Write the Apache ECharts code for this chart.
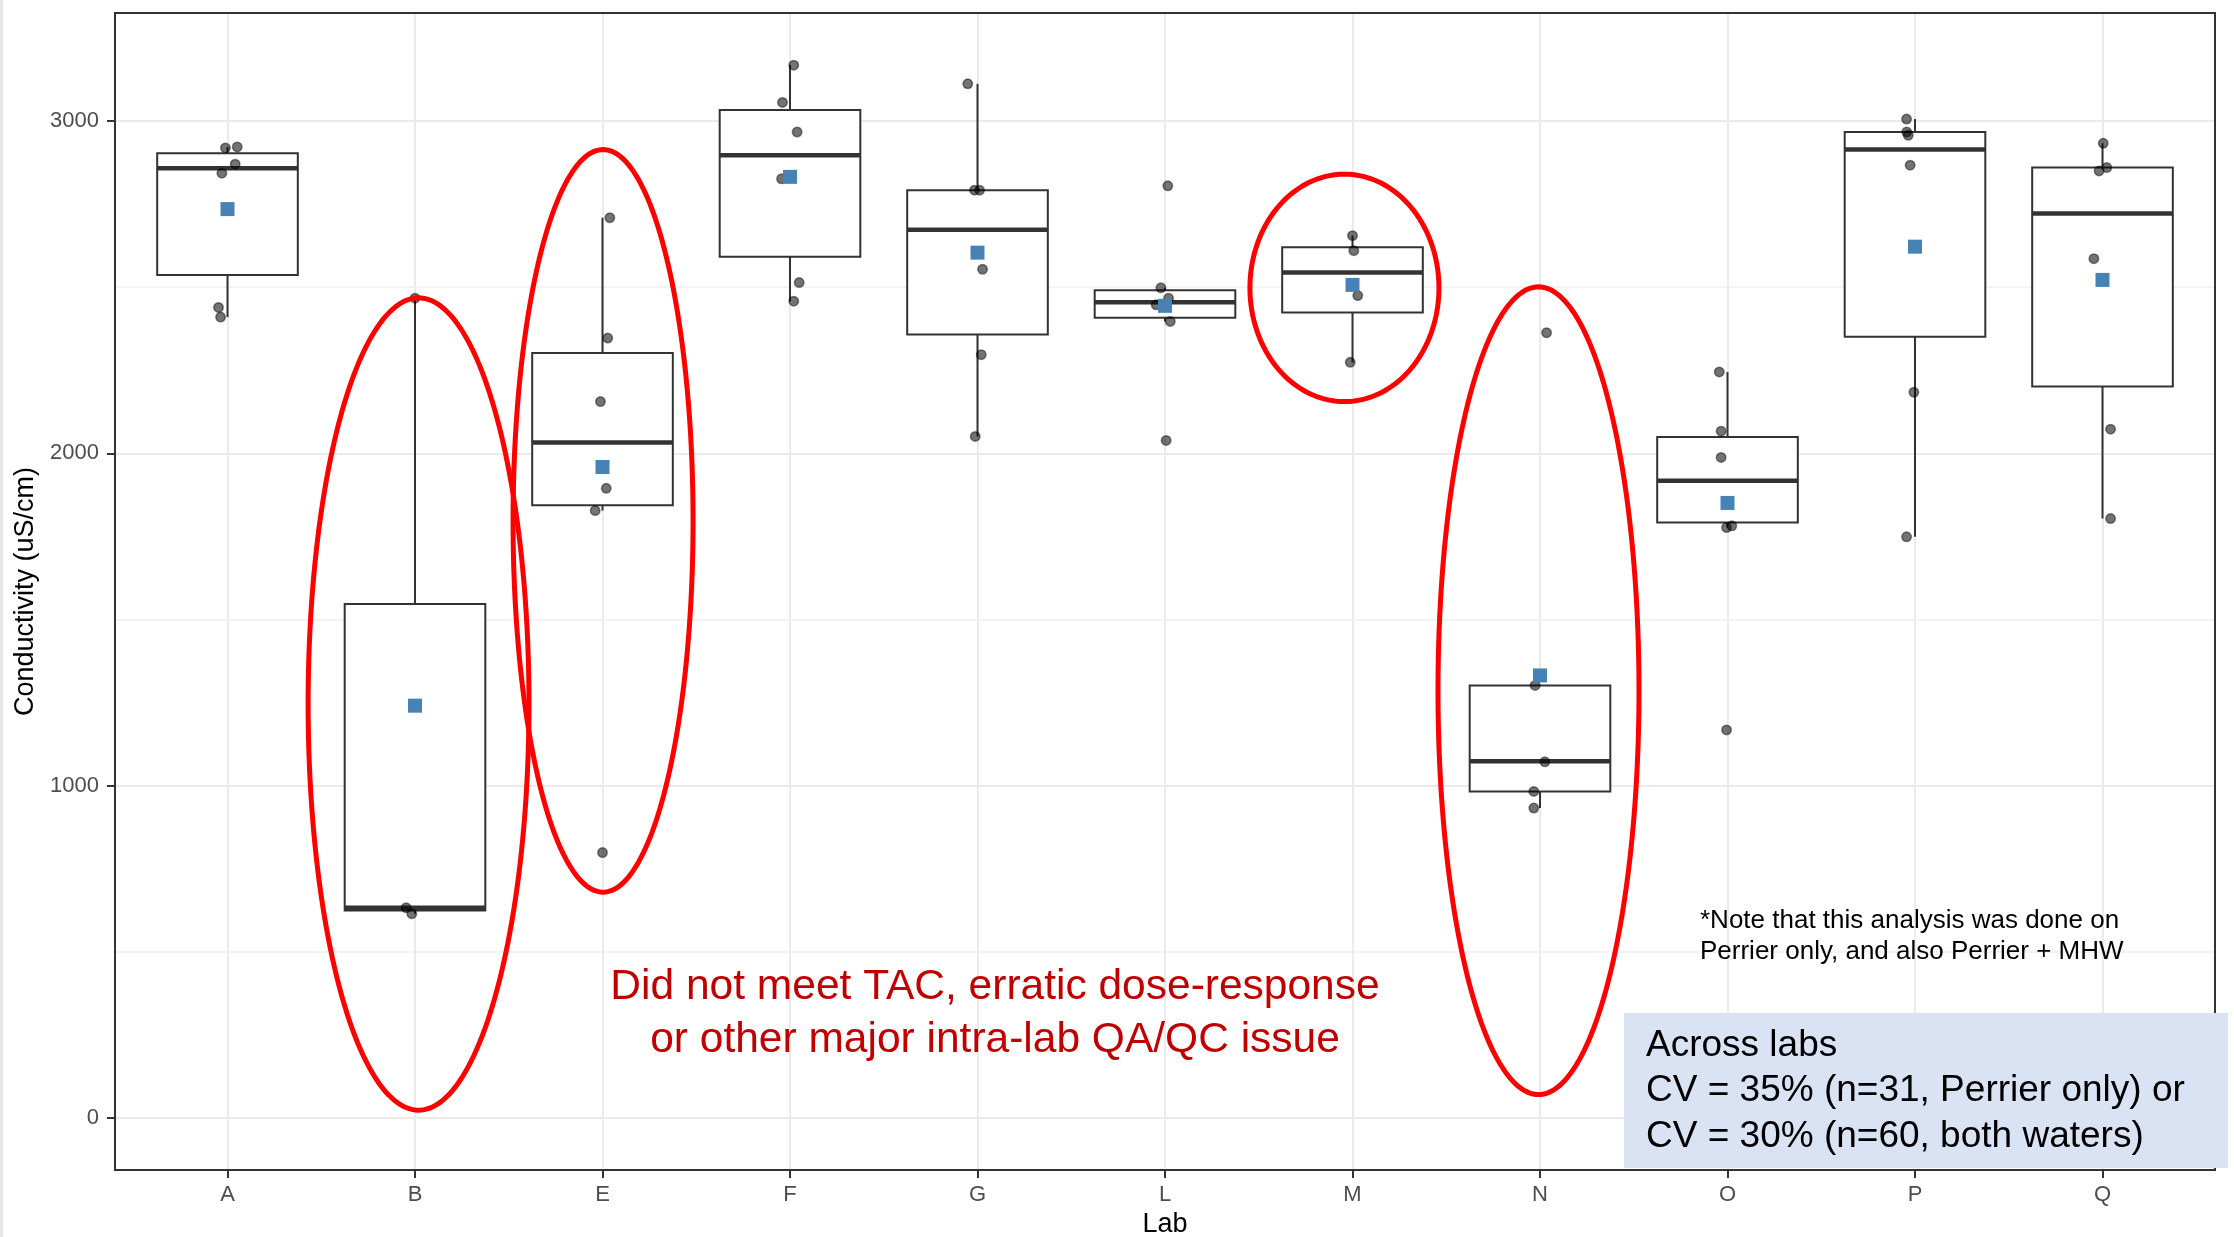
<!DOCTYPE html>
<html>
<head>
<meta charset="utf-8">
<script src="https://cdn.jsdelivr.net/npm/echarts@6/dist/echarts.min.js"></script>
<style>
  html, body { margin: 0; padding: 0; background: #ffffff; }
  #chart { width: 2234px; height: 1237px; }
</style>
</head>
<body>
<div id="chart"></div>
<script>
// Lab codes along the x axis
const labs = ['A', 'B', 'E', 'F', 'G', 'L', 'M', 'N', 'O', 'P', 'Q'];

// Box summaries per lab (uS/cm): whisker ends, hinges and median
const whiskerLow  = [2410,  615, 1828, 2458, 2051, 2397, 2274,  933, 1777, 1749, 1804];
const lowerHinge  = [2537,  625, 1844, 2592, 2358, 2408, 2424,  983, 1792, 2351, 2201];
const medians     = [2858,  633, 2033, 2897, 2673, 2455, 2544, 1074, 1918, 2914, 2722];
const upperHinge  = [2903, 1547, 2302, 3033, 2792, 2491, 2620, 1302, 2049, 2967, 2860];
const whiskerHigh = [2922, 2467, 2709, 3168, 3112, 2498, 2655, 1302, 2245, 3006, 2933];

// Lab means (blue squares)
const labMeans    = [2735, 1241, 1959, 2832, 2604, 2444, 2507, 1332, 1851, 2622, 2522];

// Individual replicate results per lab (uS/cm)
const resultsA = [2919, 2922, 2870, 2843, 2439, 2410];
const resultsB = [2467, 633, 615];
const resultsE = [2709, 2347, 2156, 1895, 1828, 799];
const resultsF = [3168, 3056, 2967, 2826, 2514, 2458];
const resultsG = [3112, 2792, 2792, 2554, 2297, 2051];
const resultsL = [2805, 2498, 2467, 2447, 2397, 2039];
const resultsM = [2655, 2610, 2475, 2274];
const resultsN = [2363, 1302, 1072, 983, 933];
const resultsO = [2245, 2067, 1988, 1782, 1777, 1168];
const resultsP = [3006, 2967, 2957, 2867, 2184, 1749];
const resultsQ = [2933, 2860, 2850, 2586, 2073, 1804];

// Horizontal jitter of each replicate, in lab-slot units
const jitterA = [-0.011, 0.052, 0.041, -0.030, -0.048, -0.037];
const jitterB = [0.000, -0.047, -0.017];
const jitterE = [0.039, 0.028, -0.011, 0.020, -0.039, 0.000];
const jitterF = [0.020, -0.040, 0.038, -0.045, 0.049, 0.020];
const jitterG = [-0.052, -0.016, 0.011, 0.027, 0.020, -0.012];
const jitterL = [0.015, -0.022, 0.019, -0.047, 0.028, 0.006];
const jitterM = [0.000, 0.007, 0.028, -0.012];
const jitterN = [0.035, -0.026, 0.026, -0.033, -0.033];
const jitterO = [-0.044, -0.034, -0.034, 0.023, -0.005, -0.005];
const jitterP = [-0.045, -0.044, -0.036, -0.026, -0.006, -0.045];
const jitterQ = [0.004, 0.023, -0.018, -0.046, 0.043, 0.043];

// Axis ticks
const yMajorTicks = [0, 1000, 2000, 3000];
const yMinorTicks = [500, 1500, 2500];

// Labs flagged for QA/QC problems, ringed with ellipses
// [lab slot, centre value, half-width (slots), half-height (uS/cm)]
const flaggedRings = [
  [1.019, 1246, 0.589, 1222],
  [2.003, 1797, 0.480, 1117],
  [5.957, 2498, 0.504, 342],
  [6.992, 1286, 0.536, 1215]
];

const allResults = [resultsA, resultsB, resultsE, resultsF, resultsG, resultsL,
                    resultsM, resultsN, resultsO, resultsP, resultsQ];
const allJitter  = [jitterA, jitterB, jitterE, jitterF, jitterG, jitterL,
                    jitterM, jitterN, jitterO, jitterP, jitterQ];

const boxData = labs.map((_, i) =>
  [i, whiskerLow[i], lowerHinge[i], medians[i], upperHinge[i], whiskerHigh[i]]);
const pointData = [];
allResults.forEach((vals, i) => {
  vals.forEach((v, k) => pointData.push([i + allJitter[i][k], v]));
});
const meanData = labMeans.map((m, i) => [i, m]);
const slots = labs.map((_, i) => i);

const FONT = "'Liberation Sans', Arial, Helvetica, sans-serif";
const INK = '#333333';
const BOX_HALF = 0.375;

const chart = echarts.init(document.getElementById('chart'), null, { renderer: 'canvas' });

chart.setOption({
  animation: false,
  backgroundColor: '#ffffff',
  grid: {
    left: 115, right: 19, top: 13, bottom: 67,
    show: true, z: 10,
    backgroundColor: 'transparent',
    borderColor: INK, borderWidth: 2,
    containLabel: false,
    outerBoundsMode: 'none'
  },
  xAxis: {
    type: 'value',
    min: -0.6, max: 10.6,
    name: 'Lab',
    nameLocation: 'middle',
    nameGap: 40,
    nameTextStyle: { fontFamily: FONT, fontSize: 27, color: '#000000' },
    axisLine: { show: false, onZero: false },
    axisTick: { show: true, length: 8, customValues: slots,
                lineStyle: { color: INK, width: 2 } },
    axisLabel: { customValues: slots, margin: 14,
                 fontFamily: FONT, fontSize: 22, color: '#4D4D4D',
                 formatter: v => labs[Math.round(v)] },
    splitLine: { show: true, lineStyle: { color: '#EBEBEB', width: 2 } },
    minorSplitLine: { show: false }
  },
  yAxis: {
    type: 'value',
    min: -156, max: 3325,
    name: 'Conductivity (uS/cm)',
    nameLocation: 'middle',
    nameGap: 61,
    nameTextStyle: { fontFamily: FONT, fontSize: 27, color: '#000000' },
    axisLine: { show: false, onZero: false },
    axisTick: { show: true, length: 8, customValues: yMajorTicks,
                lineStyle: { color: INK, width: 2 } },
    axisLabel: { customValues: yMajorTicks, margin: 16,
                 fontFamily: FONT, fontSize: 22, color: '#4D4D4D',
                 formatter: v => String(Math.round(v)) },
    splitLine: { show: true, lineStyle: { color: '#EBEBEB', width: 2 } },
    minorSplitLine: { show: false }
  },
  series: [
    {
      // minor horizontal grid
      type: 'scatter',
      data: [],
      silent: true,
      markLine: {
        z: 1,
        silent: true,
        symbol: ['none', 'none'],
        label: { show: false },
        emphasis: { disabled: true },
        lineStyle: { color: '#EFEFEF', width: 1.5, type: 'solid' },
        data: yMinorTicks.map(v => ({ yAxis: v }))
      }
    },
    {
      // boxes with whiskers and thick median bar
      type: 'custom',
      z: 2,
      silent: true,
      data: boxData,
      encode: { x: 0, y: [1, 2, 3, 4, 5] },
      renderItem: (params, api) => {
        const x = api.value(0);
        const lo = api.coord([x, api.value(1)]);
        const h1 = api.coord([x, api.value(2)]);
        const md = api.coord([x, api.value(3)]);
        const h3 = api.coord([x, api.value(4)]);
        const hi = api.coord([x, api.value(5)]);
        const left = api.coord([x - BOX_HALF, 0])[0];
        const right = api.coord([x + BOX_HALF, 0])[0];
        const line = { stroke: INK, lineWidth: 2 };
        return {
          type: 'group',
          children: [
            { type: 'line', shape: { x1: lo[0], y1: lo[1], x2: h1[0], y2: h1[1] }, style: line },
            { type: 'line', shape: { x1: h3[0], y1: h3[1], x2: hi[0], y2: hi[1] }, style: line },
            { type: 'rect', shape: { x: left, y: h3[1], width: right - left, height: h1[1] - h3[1] },
              style: { fill: '#ffffff', stroke: INK, lineWidth: 2 } },
            { type: 'line', shape: { x1: left, y1: md[1], x2: right, y2: md[1] },
              style: { stroke: INK, lineWidth: 4.5 } }
          ]
        };
      }
    },
    {
      // replicate results
      type: 'scatter',
      z: 3,
      silent: true,
      symbol: 'circle',
      symbolSize: 9.5,
      data: pointData,
      itemStyle: { color: 'rgba(0,0,0,0.55)', borderColor: 'rgba(0,0,0,0.45)', borderWidth: 1.5, opacity: 1 }
    },
    {
      // lab means
      type: 'scatter',
      z: 4,
      silent: true,
      symbol: 'rect',
      symbolSize: 14,
      data: meanData,
      itemStyle: { color: '#4682B4', opacity: 1 }
    },
    {
      // red rings around flagged labs
      type: 'custom',
      z: 5,
      silent: true,
      clip: false,
      data: flaggedRings,
      encode: { x: 0, y: 1 },
      renderItem: (params, api) => {
        const c = api.coord([api.value(0), api.value(1)]);
        const e = api.coord([api.value(0) + api.value(2), api.value(1) + api.value(3)]);
        const rx = Math.abs(e[0] - c[0]);
        const ry = Math.abs(e[1] - c[1]);
        const pts = [];
        for (let k = 0; k < 240; k++) {
          const t = 2 * Math.PI * k / 240;
          pts.push([c[0] + rx * Math.cos(t), c[1] + ry * Math.sin(t)]);
        }
        return { type: 'polygon', shape: { points: pts },
                 style: { fill: 'none', stroke: '#FF0000', lineWidth: 5 } };
      }
    }
  ],
  graphic: [
    { type: 'rect', z: 30, silent: true,
      shape: { x: 0, y: 0, width: 3, height: 1237 },
      style: { fill: '#E6E6E6' } },
    { type: 'text', z: 30, silent: true,
      style: {
        x: 995, y: 961,
        text: 'Did not meet TAC, erratic dose-response\nor other major intra-lab QA/QC issue',
        font: '42.5px ' + FONT, fill: '#C00000',
        align: 'center', verticalAlign: 'top', lineHeight: 53
      } },
    { type: 'text', z: 30, silent: true,
      style: {
        x: 1700, y: 905,
        text: '*Note that this analysis was done on\nPerrier only, and also Perrier + MHW',
        font: '26px ' + FONT, fill: '#000000',
        align: 'left', verticalAlign: 'top', lineHeight: 31.5
      } },
    { type: 'rect', z: 30, silent: true,
      shape: { x: 1624, y: 1013, width: 604, height: 155 },
      style: { fill: '#DAE3F3' } },
    { type: 'text', z: 31, silent: true,
      style: {
        x: 1646, y: 1023,
        text: 'Across labs\nCV = 35% (n=31, Perrier only) or\nCV = 30% (n=60, both waters)',
        font: '37px ' + FONT, fill: '#000000',
        align: 'left', verticalAlign: 'top', lineHeight: 45.5
      } }
  ]
});
</script>
</body>
</html>
